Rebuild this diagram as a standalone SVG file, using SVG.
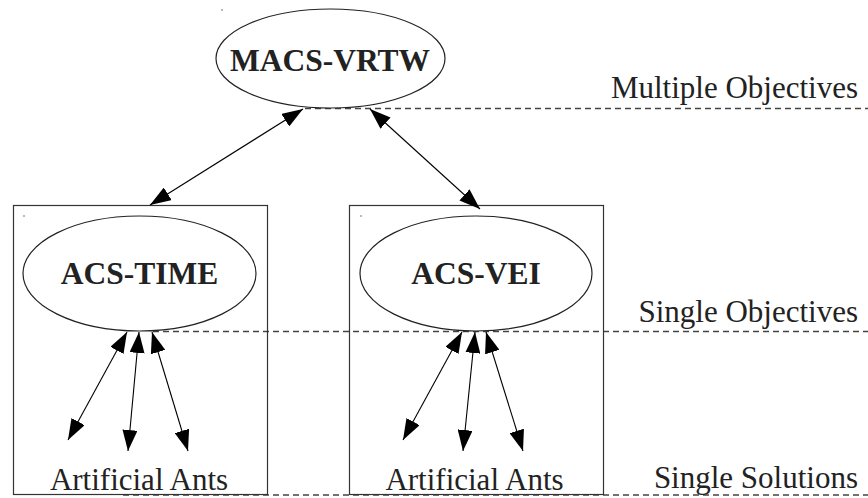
<svg xmlns="http://www.w3.org/2000/svg" width="868" height="498" viewBox="0 0 868 498">
  <style>
    .bg { fill: #ffffff; }
    .level { stroke: #444444; stroke-width: 1.3; stroke-dasharray: 6 4; fill: none; }
    .cluster { fill: none; stroke: #333333; stroke-width: 1.2; }
    .node { fill: #ffffff; stroke: #222222; stroke-width: 1.2; }
    .title { font-weight: bold; font-size: 31.5px; fill: #222222; text-anchor: middle; }
    .plain { font-size: 31px; fill: #222222; }
    .edge { stroke: #000000; stroke-width: 1.1; fill: none; marker-start: url(#head); marker-end: url(#head); }
    .dot { fill: #444444; }
  </style>
  <defs>
    <marker id="head" viewBox="0 0 21 15" refX="21" refY="7.5" markerWidth="21" markerHeight="15" markerUnits="userSpaceOnUse" orient="auto-start-reverse">
      <path d="M0,0 L21,7.5 L0,15 Z" fill="#000000"/>
    </marker>
  </defs>

  <rect class="bg" x="0" y="0" width="868" height="498"/>

  <!-- level separators -->
  <g id="levels">
    <line class="level" x1="305" y1="108.5" x2="868" y2="108.5"/>
    <line class="level" x1="153" y1="331.5" x2="868" y2="331.5"/>
    <line class="level" x1="123" y1="495" x2="868" y2="495"/>
  </g>

  <!-- cluster boxes -->
  <g id="cluster-time">
    <rect class="cluster" x="13.5" y="205.5" width="254" height="289"/>
    <circle class="dot" cx="24" cy="216" r="0.7"/>
  </g>
  <g id="cluster-vei">
    <rect class="cluster" x="349.5" y="205.5" width="254" height="289"/>
    <circle class="dot" cx="361" cy="216" r="0.7"/>
  </g>

  <g font-family="'Liberation Serif', Tinos, 'Times New Roman', 'DejaVu Serif', serif">
    <!-- nodes -->
    <g id="macs-vrtw">
      <circle class="dot" cx="222" cy="10" r="0.7"/>
      <ellipse class="node" cx="330.5" cy="58.5" rx="114.5" ry="49.5"/>
      <text class="title" x="330" y="71">MACS-VRTW</text>
    </g>
    <g id="acs-time">
      <ellipse class="node" cx="139.5" cy="273.5" rx="116.5" ry="57.5"/>
      <text class="title" x="139.5" y="284">ACS-TIME</text>
    </g>
    <g id="acs-vei">
      <ellipse class="node" cx="476" cy="273.5" rx="116" ry="57.5"/>
      <text class="title" x="476" y="284">ACS-VEI</text>
    </g>
    <g id="ants-time">
      <text class="plain" x="139" y="489.5" text-anchor="middle">Artificial Ants</text>
    </g>
    <g id="ants-vei">
      <text class="plain" x="474.5" y="489.5" text-anchor="middle">Artificial Ants</text>
    </g>

    <!-- level captions -->
    <g id="captions">
      <text class="plain" x="858" y="98" text-anchor="end">Multiple Objectives</text>
      <text class="plain" x="858" y="322" text-anchor="end">Single Objectives</text>
      <text class="plain" x="858" y="488" text-anchor="end">Single Solutions</text>
    </g>
  </g>

  <!-- connectors -->
  <g id="connectors">
    <line class="edge" x1="303" y1="109" x2="150" y2="205"/>
    <line class="edge" x1="370" y1="109" x2="480" y2="209"/>
    <line class="edge" x1="127" y1="332" x2="68" y2="440"/>
    <line class="edge" x1="139" y1="332" x2="128" y2="451"/>
    <line class="edge" x1="152" y1="332" x2="188" y2="451"/>
    <line class="edge" x1="462" y1="332" x2="403" y2="440"/>
    <line class="edge" x1="475" y1="332" x2="463" y2="451"/>
    <line class="edge" x1="486" y1="332" x2="523" y2="451"/>
  </g>
</svg>
